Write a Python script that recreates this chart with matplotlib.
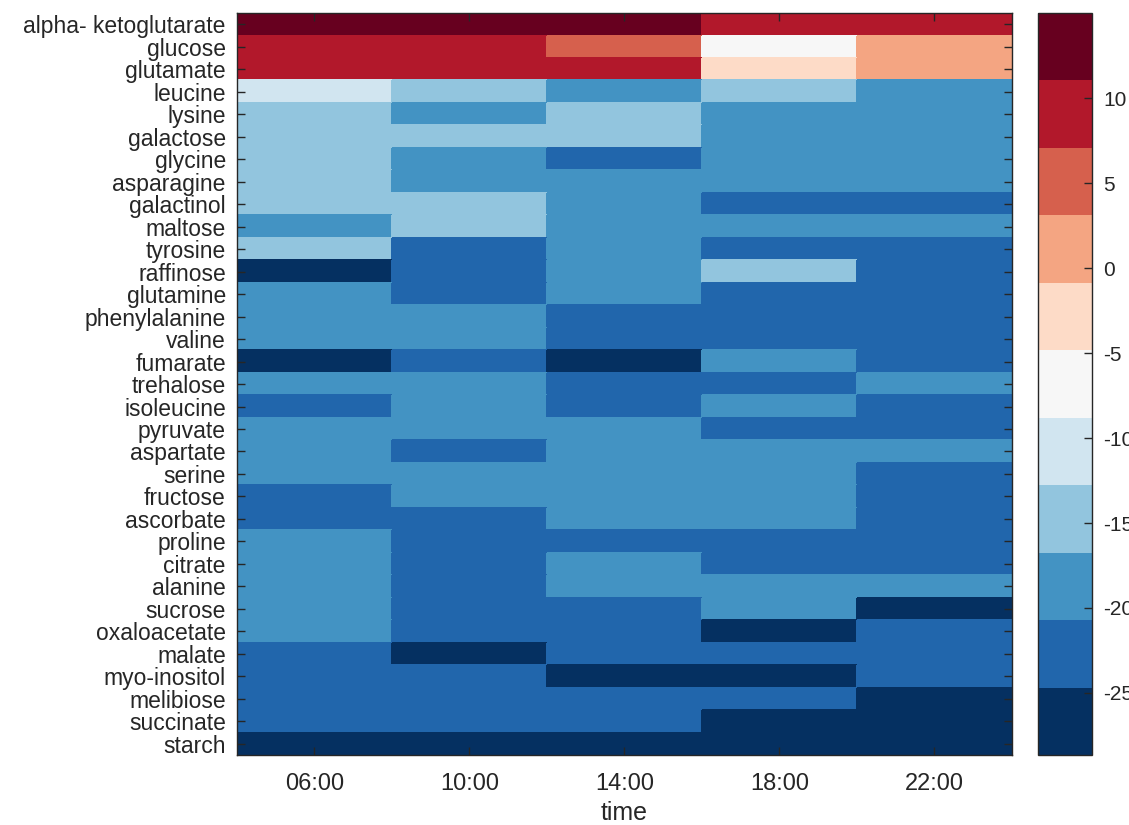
import matplotlib
matplotlib.use("Agg")
import matplotlib.pyplot as plt
import numpy as np
from matplotlib.colors import Normalize

plt.rcParams["font.family"] = ["Liberation Sans", "DejaVu Sans"]
plt.rcParams["axes.unicode_minus"] = False

metabolites = [
    "alpha- ketoglutarate", "glucose", "glutamate", "leucine", "lysine",
    "galactose", "glycine", "asparagine", "galactinol", "maltose",
    "tyrosine", "raffinose", "glutamine", "phenylalanine", "valine",
    "fumarate", "trehalose", "isoleucine", "pyruvate", "aspartate",
    "serine", "fructose", "ascorbate", "proline", "citrate", "alanine",
    "sucrose", "oxaloacetate", "malate", "myo-inositol", "melibiose",
    "succinate", "starch",
]
times = ["06:00", "10:00", "14:00", "18:00", "22:00"]

# one row per metabolite, one column per sampling time
values = [
    [14.2, 13.5, 12.8, 9.6, 8.9],
    [9.8, 8.7, 4.6, -6.2, 0.9],
    [10.3, 9.1, 8.2, -2.4, 1.7],
    [-10.5, -14.8, -18.9, -14.2, -18.3],
    [-14.6, -18.7, -15.1, -19.2, -18.8],
    [-15.0, -14.3, -15.6, -18.4, -19.0],
    [-14.9, -18.6, -22.3, -18.9, -18.5],
    [-15.3, -18.2, -19.1, -19.4, -18.7],
    [-15.4, -14.9, -18.8, -22.1, -22.6],
    [-19.3, -15.2, -18.6, -18.9, -19.1],
    [-15.5, -22.4, -18.7, -22.0, -22.5],
    [-27.0, -22.8, -19.0, -14.7, -22.4],
    [-18.9, -22.6, -18.5, -22.7, -23.0],
    [-19.2, -18.8, -22.5, -22.9, -23.1],
    [-19.0, -19.3, -22.8, -22.4, -22.7],
    [-27.4, -22.9, -26.9, -19.1, -22.6],
    [-19.4, -19.0, -22.2, -22.6, -18.9],
    [-22.4, -19.2, -22.7, -18.8, -22.9],
    [-19.5, -19.1, -18.9, -22.8, -23.2],
    [-19.6, -22.5, -19.3, -19.0, -19.4],
    [-19.8, -19.5, -19.2, -19.6, -22.8],
    [-22.9, -19.4, -19.6, -19.8, -23.0],
    [-23.1, -22.9, -19.7, -19.9, -23.3],
    [-19.9, -23.0, -22.8, -23.2, -23.4],
    [-20.0, -23.2, -19.8, -23.1, -23.5],
    [-20.1, -23.4, -20.0, -19.7, -20.2],
    [-20.2, -23.3, -23.0, -20.3, -27.6],
    [-20.3, -23.5, -23.1, -27.8, -23.6],
    [-23.6, -27.2, -23.3, -23.4, -23.7],
    [-23.8, -23.7, -27.5, -27.9, -23.9],
    [-24.0, -23.9, -24.1, -23.8, -28.1],
    [-24.2, -24.0, -24.3, -28.2, -28.4],
    [-28.3, -28.65, -28.0, -28.5, -28.6],
]
cbar_ticks = [-25, -20, -15, -10, -5, 0, 5, 10]

data = np.array(values)
cmap = plt.get_cmap("RdBu_r", 11)
norm = Normalize(vmin=-28.65, vmax=15.0)
text_color = "#262626"

fig = plt.figure(figsize=(11.29, 8.25), dpi=100)
ax = fig.add_axes([0.2099, 0.0848, 0.6864, 0.8994])
cax = fig.add_axes([0.9194, 0.0848, 0.0478, 0.8994])

mesh = ax.pcolormesh(data, cmap=cmap, norm=norm, edgecolors="face", linewidth=0.3)
ax.set_xlim(0, len(times))
ax.set_ylim(len(metabolites), 0)

ax.set_xticks(np.arange(len(times)) + 0.5)
ax.set_xticklabels(times, fontsize=17, color=text_color)
ax.set_yticks(np.arange(len(metabolites)) + 0.5)
ax.set_yticklabels(metabolites, fontsize=16.5, color=text_color)
ax.tick_params(direction="in", length=6, width=1, color=text_color,
               top=True, right=True, pad=8)
ax.tick_params(axis="x", pad=13)
ax.set_xlabel("time", fontsize=18, color=text_color, labelpad=4)
for spine in ax.spines.values():
    spine.set_color(text_color)
    spine.set_linewidth(1)

cb = fig.colorbar(mesh, cax=cax, ticks=cbar_ticks)
cb.ax.tick_params(direction="in", length=6, width=1, color=text_color,
                  labelsize=15, labelcolor=text_color, pad=8)
cb.outline.set_edgecolor(text_color)
cb.outline.set_linewidth(1)

fig.savefig("out.png", dpi=100)
